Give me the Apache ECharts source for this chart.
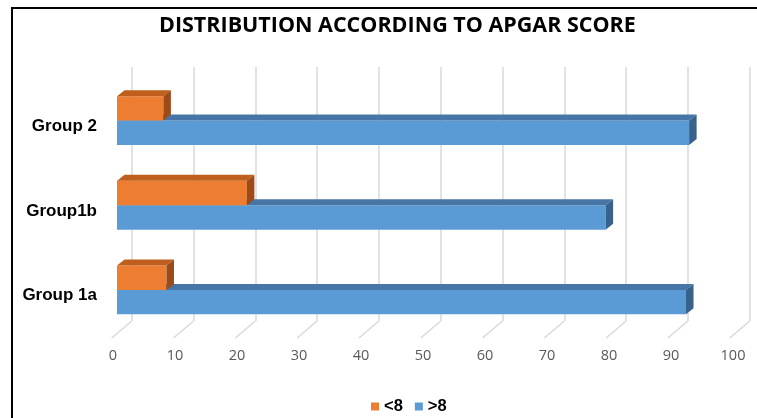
<!DOCTYPE html>
<html>
<head>
<meta charset="utf-8">
<script src="https://cdn.jsdelivr.net/npm/echarts@6/dist/echarts.min.js"></script>
<style>
  html, body { margin: 0; padding: 0; background: #fff; }
  #chart { width: 757px; height: 418px; }
</style>
</head>
<body>
<div id="chart"></div>
<script>
// data (percent of each group)
const groups = ['Group 1a', 'Group1b', 'Group 2'];
const below8 = [8, 21, 7.5];
const above8 = [92, 79, 92.5];
const xTicks = [0, 10, 20, 30, 40, 50, 60, 70, 80, 90, 100];

const orange = { front: '#ED7D31', top: '#BF5F1E', side: '#9C4A17' };
const blue = { front: '#5B9BD5', top: '#4776A6', side: '#38628C' };

const DX = 7.5, DY = 6;

// 3D-ish box drawn from the axis scales
function boxRenderer(colors, above) {
  return function (params, api) {
    const val = api.value(0);
    const cat = api.value(1);
    const p0 = api.coord([0, cat]);
    const p1 = api.coord([val, cat]);
    const h = api.size([0, 1])[1] * 0.288;
    const x0 = p0[0], x1 = p1[0];
    const yt = above ? p0[1] - h : p0[1];
    const yb = above ? p0[1] : p0[1] + h;
    return {
      type: 'group',
      children: [
        { type: 'rect', shape: { x: x0, y: yt, width: x1 - x0, height: yb - yt },
          style: { fill: colors.front } },
        { type: 'polygon', shape: { points: [[x0, yt], [x1, yt], [x1 + DX, yt - DY], [x0 + DX, yt - DY]] },
          style: { fill: colors.top } },
        { type: 'polygon', shape: { points: [[x1, yt], [x1 + DX, yt - DY], [x1 + DX, yb - DY], [x1, yb]] },
          style: { fill: colors.side } }
      ]
    };
  };
}

const chart = echarts.init(document.getElementById('chart'));

chart.setOption({
  animation: false,
  title: {
    text: 'DISTRIBUTION ACCORDING TO APGAR SCORE',
    left: 154,
    top: 10,
    textStyle: { fontFamily: 'Open Sans', fontWeight: 'bold', fontSize: 21.5, color: '#000' }
  },
  legend: {
    data: ['<8', '>8'],
    left: 366,
    top: 393,
    icon: 'rect',
    itemWidth: 8,
    itemHeight: 8,
    itemGap: 12,
    textStyle: { fontFamily: 'Liberation Sans', fontWeight: 'bold', fontSize: 16.5, color: '#000' }
  },
  graphic: [
    { type: 'rect', shape: { x: 12, y: 8, width: 780, height: 440 },
      style: { fill: 'none', stroke: '#000', lineWidth: 2 }, silent: true }
  ],
  grid: [
    // bars (front plane of the bars)
    { left: 117, width: 618.5, top: 78.2, height: 254.1, outerBoundsMode: 'none' },
    // back wall with gridlines
    { left: 131.7, width: 618, top: 67, height: 254, outerBoundsMode: 'none' },
    // floor front edge with tick labels
    { left: 113, width: 620, top: 67, height: 271, outerBoundsMode: 'none' },
    // category labels, sitting a little lower than the bars
    { left: 117, width: 618.5, top: 84, height: 254.1, outerBoundsMode: 'none' }
  ],
  xAxis: [
    { gridIndex: 0, type: 'value', min: 0, max: 100, interval: 10, show: false },
    { gridIndex: 1, type: 'value', min: 0, max: 100, interval: 10,
      axisLine: { show: false }, axisTick: { show: false }, axisLabel: { show: false },
      splitLine: { show: true, lineStyle: { color: '#D9D9D9', width: 1.5 } } },
    { gridIndex: 2, type: 'value', min: 0, max: 100, interval: 10,
      axisLine: { show: false }, axisTick: { show: false }, splitLine: { show: false },
      axisLabel: { margin: 10, color: '#595959', fontFamily: 'Open Sans', fontSize: 14.5 } },
    { gridIndex: 3, type: 'value', min: 0, max: 100, show: false }
  ],
  yAxis: [
    { gridIndex: 0, type: 'category', data: groups, show: false },
    { gridIndex: 1, type: 'category', data: groups, show: false },
    { gridIndex: 2, type: 'value', min: 0, max: 1, show: false },
    { gridIndex: 3, type: 'category', data: groups,
      axisLine: { show: false }, axisTick: { show: false },
      axisLabel: { margin: 20, color: '#000', fontFamily: 'Liberation Sans', fontWeight: 'bold',
        fontSize: 17 } }
  ],
  series: [
    {
      // diagonal floor lines from the back wall to the front edge
      type: 'custom',
      name: 'floor',
      xAxisIndex: 1,
      yAxisIndex: 1,
      silent: true,
      data: xTicks.map(v => [v]),
      encode: { x: 0 },
      renderItem: function (params, api) {
        const c = api.coord([api.value(0), groups[0]]);
        const bottom = params.coordSys.y + params.coordSys.height;
        return { type: 'line', shape: { x1: c[0], y1: bottom, x2: c[0] - 20, y2: bottom + 17 },
          style: { stroke: '#D9D9D9', lineWidth: 1.5 } };
      }
    },
    {
      type: 'custom',
      name: '>8',
      xAxisIndex: 0,
      yAxisIndex: 0,
      itemStyle: { color: blue.front },
      data: groups.map((g, i) => [above8[i], g]),
      encode: { x: 0, y: 1 },
      renderItem: boxRenderer(blue, false)
    },
    {
      type: 'custom',
      name: '<8',
      xAxisIndex: 0,
      yAxisIndex: 0,
      itemStyle: { color: orange.front },
      data: groups.map((g, i) => [below8[i], g]),
      encode: { x: 0, y: 1 },
      renderItem: boxRenderer(orange, true)
    }
  ]
});
</script>
</body>
</html>
